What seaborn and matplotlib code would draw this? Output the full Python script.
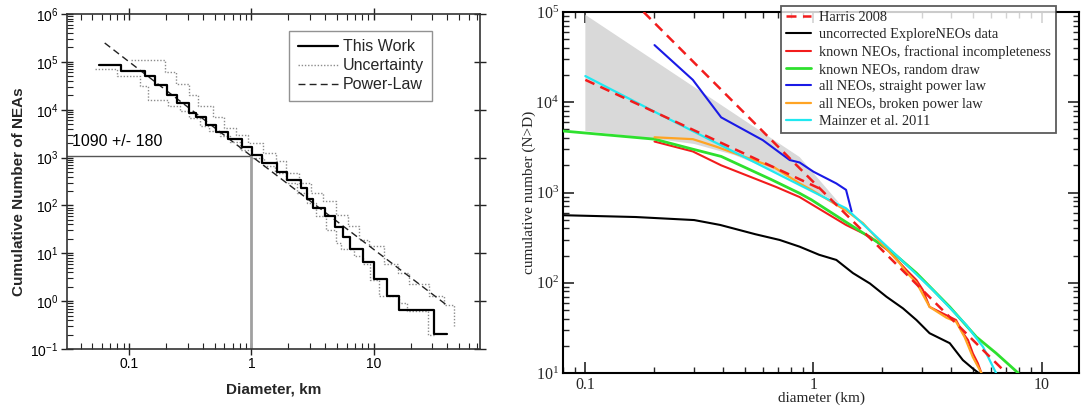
import numpy as np
import matplotlib
matplotlib.use("Agg")
import matplotlib.pyplot as plt
import seaborn as sns
from matplotlib.ticker import LogLocator, FuncFormatter, NullFormatter

# ---------------- left panel: cumulative NEA size distribution ----------------
work_d = [0.057, 0.085, 0.135, 0.164, 0.204, 0.247, 0.307, 0.353, 0.421, 0.508,
          0.640, 0.834, 1.01, 1.22, 1.61, 1.94, 2.55, 2.83, 3.21, 4.00, 4.86,
          5.58, 6.45, 8.13, 10.1, 12.9, 16.2, 31.2, 39.6]
work_n = [86100, 64400, 51500, 32400, 20000, 13600, 8440, 7070, 4730, 3440,
          2450, 1670, 1120, 774, 494, 348, 233, 139, 88.9, 59.6, 35.2,
          22.1, 12.0, 6.64, 2.93, 1.29, 0.65, 0.208, 0.208]

upper_d = [0.104, 0.198, 0.242, 0.311, 0.364, 0.483, 0.601, 0.750, 0.933, 1.24,
           1.59, 1.90, 2.44, 3.07, 3.83, 4.92, 6.13, 7.64, 9.22, 12.2, 15.7,
           19.6, 28.5, 37.9, 45.7]
upper_n = [1.08e5, 6.24e4, 3.51e4, 2.03e4, 1.18e4, 6950, 4160, 2930, 1990, 1250,
           838, 479, 296, 183, 122, 64.5, 36.8, 19.4, 14.1, 5.84, 3.91,
           2.23, 1.27, 0.85, 0.30]

lower_d = [0.052, 0.079, 0.123, 0.143, 0.207, 0.26, 0.31, 0.376, 0.45, 0.55,
           0.67, 0.80, 1.0, 1.26, 1.56, 1.92, 2.35, 2.86, 3.4, 4.1, 4.9, 5.41,
           6.95, 8.1, 9.4, 11.1, 16.2, 18.6, 27.6, 31.4]
lower_n = [7.1e4, 4.99e4, 3.18e4, 1.63e4, 1.22e4, 9270, 6730, 4510, 3550, 2790,
           2090, 1470, 985, 659, 479, 296, 183, 113, 59.6, 31.4, 16.6, 12.0,
           8.7, 5.84, 2.75, 1.27, 0.90, 0.62, 0.20, 0.20]

powerlaw_d = [0.063, 1.0, 39.0]
powerlaw_n = [2.48e5, 1070, 0.85]

ref_d = 1.0
ref_n = 1090
ref_text = "1090 +/- 180"

# ---------------- right panel: ExploreNEOs debiased populations ----------------
harris_d = [0.18, 1.07, 7.0]
harris_n = [1.0e5, 1100, 10]
harris_low_d = [0.1, 1.07]
harris_low_n = [1.77e4, 1100]

raw_d = [0.08, 0.166, 0.30, 0.39, 0.556, 0.711, 0.87, 1.06, 1.26, 1.49, 1.77,
         2.09, 2.47, 2.83, 3.23, 3.96, 4.52, 5.0, 5.3]
raw_n = [560, 535, 495, 437, 345, 298, 251, 204, 179, 128, 98,
         70, 52, 38.6, 27.6, 21.4, 13.9, 11.2, 10]

frac_d = [0.201, 0.296, 0.394, 0.687, 0.87, 1.0, 1.39, 1.77, 2.16, 2.56, 2.83,
          3.02, 3.23, 3.83, 4.22, 4.53, 4.76, 5.0, 5.26, 5.45]
frac_n = [3670, 2850, 2000, 1150, 890, 720, 437, 324, 220, 138, 107,
          83, 54, 43.6, 38.6, 27.5, 23.2, 16.5, 12.8, 10]

draw_d = [0.077, 0.201, 0.296, 0.394, 0.65, 0.87, 0.98, 1.39, 2.16, 2.83, 3.96,
          5.18, 6.32, 7.9]
draw_n = [4840, 3900, 3020, 2510, 1400, 980, 830, 470, 231, 128, 54,
          25.1, 16.6, 10]

straight_d = [0.201, 0.296, 0.394, 0.60, 0.787, 0.87, 1.0, 1.26, 1.39, 1.47]
straight_n = [4.3e4, 1.77e4, 6800, 3800, 2290, 2150, 1700, 1260, 1070, 616]

broken_d = [0.201, 0.296, 0.375, 0.675, 0.87, 0.98, 1.39, 1.65, 2.39, 2.56,
            2.83, 3.23, 3.83, 4.22, 4.6, 5.0, 5.45]
broken_n = [4090, 3900, 3220, 1890, 1260, 1070, 630, 457, 164, 130,
            100, 54, 41, 37, 25, 15, 10]

mainzer_d = [0.1, 0.201, 0.87, 1.39, 2.39, 3.34, 4.68, 5.54, 6.32]
mainzer_n = [1.95e4, 7850, 1210, 668, 186, 83, 34, 19.5, 10]

band_upper_d = [0.1, 0.87, 1.3]
band_upper_n = [9.3e4, 2470, 760]
band_lower_d = [1.3, 1.0, 0.7, 0.45, 0.3, 0.2, 0.1]
band_lower_n = [760, 1050, 1650, 2600, 3450, 3950, 4800]

# ---------------- style ----------------
sns.set_style("ticks")
plt.rcParams["font.family"] = ["Liberation Sans", "DejaVu Sans"]

fig = plt.figure(figsize=(10.82, 4.09), dpi=100)
ax1 = fig.add_axes([66.7 / 1082, 60 / 409, 413 / 1082, 335 / 409])
ax2 = fig.add_axes([563 / 1082, 36 / 409, 516 / 1082, 361 / 409])

sans = "Liberation Sans"
serif = "Liberation Serif"


def decade_label(v, pos):
    return r"$\mathregular{10^{%d}}$" % int(round(np.log10(v)))


def plain_label(v, pos):
    return f"{v:g}"


# ---------------- left panel ----------------
ax1.set_xscale("log")
ax1.set_yscale("log")

sns.lineplot(x=upper_d, y=upper_n, ax=ax1, color="#8c8c8c", lw=1.0,
             linestyle=(0, (1, 1.3)), drawstyle="steps-post", sort=False,
             estimator=None, label="Uncertainty")
sns.lineplot(x=lower_d, y=lower_n, ax=ax1, color="#8c8c8c", lw=1.0,
             linestyle=(0, (1, 1.3)), drawstyle="steps-post", sort=False,
             estimator=None)
sns.lineplot(x=powerlaw_d, y=powerlaw_n, ax=ax1, color="#222222", lw=1.0,
             linestyle=(0, (5, 3)), sort=False, estimator=None,
             label="Power-Law")
sns.lineplot(x=work_d, y=work_n, ax=ax1, color="black", lw=1.6,
             drawstyle="steps-post", sort=False, estimator=None,
             label="This Work")

ax1.set_xlim(0.0308, 73.6)
ax1.set_ylim(0.1, 1e6)

ax1.plot([ax1.get_xlim()[0], ref_d], [ref_n, ref_n], color="#555555", lw=1.0,
         zorder=1)
ax1.plot([ref_d, ref_d], [ax1.get_ylim()[0], ref_n], color="#a0a0a0", lw=2.0,
         zorder=1)
ax1.annotate(ref_text, xy=(ax1.get_xlim()[0], ref_n), xytext=(4, 5),
             textcoords="offset points", fontsize=11.5, family=sans,
             color="black", va="bottom", ha="left")

ax1.xaxis.set_major_locator(LogLocator(base=10, numticks=12))
ax1.xaxis.set_minor_locator(LogLocator(base=10, subs=np.arange(2, 10), numticks=12))
ax1.yaxis.set_major_locator(LogLocator(base=10, numticks=12))
ax1.yaxis.set_minor_locator(LogLocator(base=10, subs=np.arange(2, 10), numticks=12))
ax1.xaxis.set_major_formatter(FuncFormatter(plain_label))
ax1.xaxis.set_minor_formatter(NullFormatter())
ax1.yaxis.set_major_formatter(FuncFormatter(decade_label))
ax1.yaxis.set_minor_formatter(NullFormatter())

ax1.tick_params(which="major", direction="inout", length=8, width=1.0,
                top=True, right=True, labelsize=10, colors="#222222",
                labelcolor="black", pad=2)
ax1.tick_params(which="minor", direction="in", length=4, width=0.8,
                top=True, right=False, left=True, bottom=True,
                colors="#222222")
for lab in ax1.get_xticklabels() + ax1.get_yticklabels():
    lab.set_family(sans)
for sp in ax1.spines.values():
    sp.set_linewidth(1.2)
    sp.set_color("#333333")

ax1.set_xlabel("Diameter, km", fontsize=11, fontweight="bold", family=sans)
ax1.set_ylabel("Cumulative Number of NEAs", fontsize=11, fontweight="bold",
               family=sans)
ax1.xaxis.set_label_coords(0.5, -0.10)
ax1.yaxis.set_label_coords(-0.098, 0.47)

h, l = ax1.get_legend_handles_labels()
order = [l.index("This Work"), l.index("Uncertainty"), l.index("Power-Law")]
leg1 = ax1.legend([h[i] for i in order], [l[i] for i in order],
                  loc="upper left", bbox_to_anchor=(289 / 1082, 1 - 30.7 / 409),
                  bbox_transform=fig.transFigure, frameon=True, fancybox=False,
                  prop={"family": sans, "size": 11.5}, handlelength=2.5,
                  handletextpad=0.3, labelspacing=0.25, borderpad=0.55,
                  borderaxespad=0)
leg1.get_frame().set_edgecolor("#777777")
leg1.get_frame().set_linewidth(1.0)

# ---------------- right panel ----------------
ax2.set_xscale("log")
ax2.set_yscale("log")

ax2.fill(band_upper_d + band_lower_d, band_upper_n + band_lower_n,
         color="#d9d9d9", lw=0, zorder=1)

red = "#f21c1c"
sns.lineplot(x=harris_d, y=harris_n, ax=ax2, color=red, lw=1.8,
             linestyle=(0, (4, 2.6)), sort=False, estimator=None,
             label="Harris 2008", zorder=5)
sns.lineplot(x=harris_low_d, y=harris_low_n, ax=ax2, color=red, lw=1.8,
             linestyle=(0, (4, 2.6)), sort=False, estimator=None, zorder=5)
sns.lineplot(x=raw_d, y=raw_n, ax=ax2, color="black", lw=1.5, sort=False,
             estimator=None, label="uncorrected ExploreNEOs data", zorder=3)
sns.lineplot(x=frac_d, y=frac_n, ax=ax2, color=red, lw=1.5, sort=False,
             estimator=None, label="known NEOs, fractional incompleteness",
             zorder=3)
sns.lineplot(x=draw_d, y=draw_n, ax=ax2, color="#2ee02e", lw=2.0, sort=False,
             estimator=None, label="known NEOs, random draw", zorder=3)
sns.lineplot(x=straight_d, y=straight_n, ax=ax2, color="#1a1ae6", lw=1.5,
             sort=False, estimator=None, label="all NEOs, straight power law",
             zorder=3)
sns.lineplot(x=broken_d, y=broken_n, ax=ax2, color="#ffa424", lw=1.6,
             sort=False, estimator=None, label="all NEOs, broken power law",
             zorder=4)
sns.lineplot(x=mainzer_d, y=mainzer_n, ax=ax2, color="#20e8f0", lw=1.6,
             sort=False, estimator=None, label="Mainzer et al. 2011", zorder=4)

ax2.set_xlim(0.0798, 14.6)
ax2.set_ylim(10, 1e5)

ax2.xaxis.set_major_locator(LogLocator(base=10, numticks=12))
ax2.xaxis.set_minor_locator(LogLocator(base=10, subs=np.arange(2, 10), numticks=12))
ax2.yaxis.set_major_locator(LogLocator(base=10, numticks=12))
ax2.yaxis.set_minor_locator(LogLocator(base=10, subs=np.arange(2, 10), numticks=12))
ax2.xaxis.set_major_formatter(FuncFormatter(plain_label))
ax2.xaxis.set_minor_formatter(NullFormatter())
ax2.yaxis.set_major_formatter(FuncFormatter(decade_label))
ax2.yaxis.set_minor_formatter(NullFormatter())
ax2.tick_params(which="major", direction="in", length=8, width=1.2,
                top=True, right=True, labelsize=11.5, pad=3)
ax2.tick_params(which="minor", direction="in", length=4, width=1.0,
                top=True, right=True)
for lab in ax2.get_xticklabels() + ax2.get_yticklabels():
    lab.set_family(serif)
for sp in ax2.spines.values():
    sp.set_linewidth(1.5)
    sp.set_color("black")

ax2.set_xlabel("diameter (km)", fontsize=11, family=serif)
ax2.set_ylabel("cumulative number (N>D)", fontsize=11, family=serif)
ax2.xaxis.set_label_coords(0.5, -0.052)
ax2.yaxis.set_label_coords(-0.052, 0.5)

h2, l2 = ax2.get_legend_handles_labels()
leg2 = ax2.legend(h2, l2, loc="upper left",
                  bbox_to_anchor=(781 / 1082, 1 - 6 / 409),
                  bbox_transform=fig.transFigure, frameon=True, fancybox=False,
                  prop={"family": serif, "size": 10.4}, handlelength=1.7,
                  handletextpad=0.6, labelspacing=0.28, borderpad=0.35,
                  borderaxespad=0)
leg2.get_frame().set_edgecolor("#333333")
leg2.get_frame().set_linewidth(1.3)
leg2.set_zorder(10)

fig.savefig("out.png", dpi=100)
